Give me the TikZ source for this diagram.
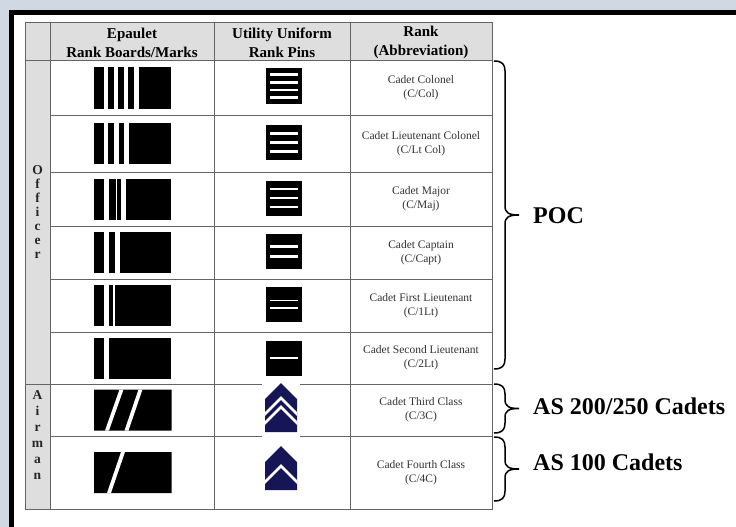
\documentclass[tikz,border=0pt]{standalone}
\usepackage{fontspec}
\setmainfont{Liberation Serif}
\definecolor{backdrop}{HTML}{D0D9E3}
\definecolor{navychev}{RGB}{22,22,86}
\definecolor{rulegray}{RGB}{100,100,100}
\definecolor{headgray}{RGB}{222,222,222}
\newcommand\curlybrace[3]{%
  \draw[line width=1.5pt] (#1,#2) .. controls (#1+8,#2) and (#1+11,#2+3) .. (#1+11,#2+10)
    -- (#1+11,{(#2+#3)/2-9}) .. controls (#1+11,{(#2+#3)/2-2}) and (#1+15,{(#2+#3)/2}) .. (#1+25,{(#2+#3)/2})
    .. controls (#1+15,{(#2+#3)/2}) and (#1+11,{(#2+#3)/2+2}) .. (#1+11,{(#2+#3)/2+9})
    -- (#1+11,#3-10) .. controls (#1+11,#3-3) and (#1+8,#3) .. (#1,#3);}
\begin{document}
\begin{tikzpicture}[x=1pt,y=-1pt]
    \tikzstyle{tableline}=[draw=rulegray, line width=1pt]
    \tikzstyle{head}=[font=\fontsize{15}{19}\selectfont\bfseries, align=center]
    \tikzstyle{rank}=[font=\fontsize{11.5}{14}\selectfont, align=center, text=black!80]
    \tikzstyle{vletter}=[font=\fontsize{13.5}{14}\selectfont\bfseries, anchor=base, inner sep=0pt, text=black!85]
    \tikzstyle{group}=[font=\fontsize{24}{24}\selectfont\bfseries, anchor=west, inner sep=0pt]
    \useasboundingbox (0,0) rectangle (736,527);
    \fill[backdrop] (0,0) rectangle (736,527);
    \fill[black] (9,10) rectangle (736,527);
    \fill[white] (13.5,15) rectangle (736,527);
    % table
    \fill[headgray] (25,23) rectangle (492,61)
                    (25,61) rectangle (50,509);
    \draw[tableline] (25,23) rectangle (492,509)
          (25,61) -- (492,61)
          (25,384) -- (492,384)
          (50,23) -- (50,509)
          (214,23) -- (214,509)
          (350,23) -- (350,509);
    \foreach \y in {115,172,226,279,332,436}
        \draw[tableline] (50,\y) -- (492,\y);
    \node[head] (hdboard) at (132,42.5) {Epaulet\\Rank Boards/Marks};
    \node[head] (hdpin) at (282,42.5) {Utility Uniform\\Rank Pins};
    \node[head] (hdrank) at (421,42.5) {Rank\\(Abbreviation)};
    \foreach \ch [count=\i] in {O,f,f,i,c,e,r}
        \node[vletter] (officer\i) at (37.5,{174+14*(\i-1)}) {\ch};
    \foreach \ch [count=\i] in {A,i,r,m,a,n}
        \node[vletter] (airman\i) at (37.5,{399+16*(\i-1)}) {\ch};
    % rank names
    \foreach \yc/\nm/\txt in {88/rkcol/{Cadet Colonel\\(C/Col)},
                              143.5/rkltcol/{Cadet Lieutenant Colonel\\(C/Lt Col)},
                              199/rkmaj/{Cadet Major\\(C/Maj)},
                              252.5/rkcapt/{Cadet Captain\\(C/Capt)},
                              305.5/rkfirst/{Cadet First Lieutenant\\(C/1Lt)},
                              358/rksecond/{Cadet Second Lieutenant\\(C/2Lt)},
                              410/rkthird/{Cadet Third Class\\(C/3C)},
                              472.5/rkfourth/{Cadet Fourth Class\\(C/4C)}}
        \node[rank] (\nm) at (421,\yc) {\txt};
    % rank boards
    \foreach \yc/\bars in {88/{10/14,20/24,30/34,40/45},
                           143.5/{10/14,20/24.5,30/35},
                           199/{10/14.5,21.5/23,26.5/31.5},
                           252.5/{10/14.5,20.5/25.5},
                           305.5/{10/14.5,19.3/20.8},
                           358/{10/14.5}}{
        \fill (94,\yc-20.5) rectangle (171,\yc+20.5);
        \foreach \a/\b in \bars
            \fill[white] (94+\a,\yc-20.5) rectangle (94+\b,\yc+20.5);
    }
    \fill (94,389.5) rectangle (171.5,430.5)
          (94,452) rectangle (171.5,493);
    \fill[white] (105,430.5) -- (119.5,389.5) -- (123.5,389.5) -- (109,430.5) -- cycle
                 (124.5,430.5) -- (138.5,389.5) -- (142.5,389.5) -- (128.5,430.5) -- cycle
                 (107,493) -- (121,452) -- (125,452) -- (111,493) -- cycle;
    % rank pins
    \foreach \pc/\bars in {86/{-11.5/1.3,-3.8/1.3,3.8/1.3,11.5/1.3},
                           142.3/{-9/1.4,0/1.4,9/1.4},
                           198/{-9/1.4,0/0.7,9/1.4},
                           251.7/{-5/1.4,5/1.4},
                           304/{-3.5/0.7,4/1.4},
                           358/{0/1.4}}{
        \fill (266,\pc-17.5) rectangle (302,\pc+17.5);
        \foreach \o/\h in \bars
            \fill[white] (270,\pc+\o-\h) rectangle (297.5,\pc+\o+\h);
    }
    % chevrons
    \fill[white] (262,379) rectangle (300,438);
    \begin{scope}
        \clip (265,399) -- (281,383) -- (297,399) -- (297,432) -- (265,432) -- cycle
              (265,462) -- (281,446) -- (297,462) -- (297,490) -- (265,490) -- cycle;
        \fill[navychev] (260,380) rectangle (300,495);
        \draw[white, line width=2.6pt] (263,416) -- (281,398) -- (299,416)
                                       (263,425) -- (281,407) -- (299,425)
                                       (263,484) -- (281,466) -- (299,484);
    \end{scope}
    % groups
    \curlybrace{494}{61}{369}
    \node[group] (poc) at (533,216) {POC};
    \curlybrace{494}{384}{433}
    \node[group] (as200) at (533,406) {AS 200/250 Cadets};
    \curlybrace{494}{437}{501}
    \node[group] (as100) at (533,462) {AS 100 Cadets};
\end{tikzpicture}
\end{document}
